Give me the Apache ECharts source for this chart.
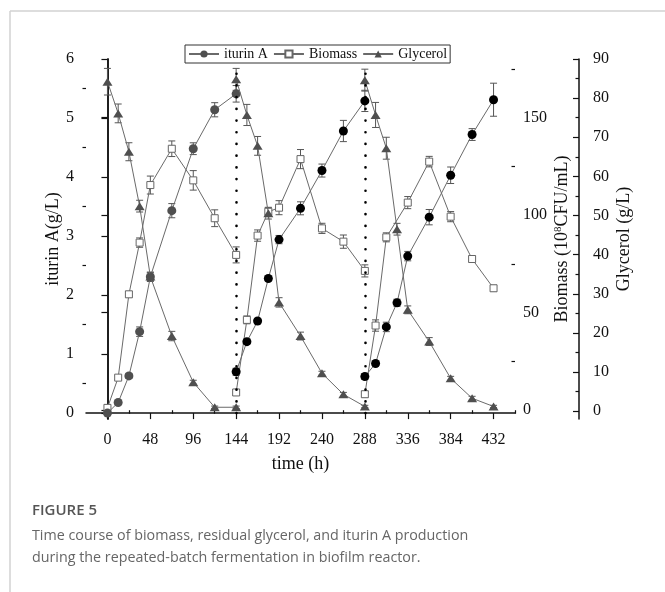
<!DOCTYPE html>
<html lang="en">
<head>
<meta charset="UTF-8">
<title>Figure 5</title>
<script src="https://cdn.jsdelivr.net/npm/echarts@6/dist/echarts.min.js"></script>
<style>
  html, body { margin: 0; padding: 0; background: #fff; }
  #main { width: 665px; height: 592px; }
</style>
</head>
<body>
<div id="main"></div>
<script>
// sampling times of the three batches (h)
var cycle1Time = [0, 12, 24, 36, 48, 72, 96, 120, 144];
var cycle2Time = [144, 156, 168, 180, 192, 216, 240, 264, 288];
var cycle3Time = [288, 300, 312, 324, 336, 360, 384, 408, 432];
// biomass was not plotted at 324 h in the third batch
var biomass3Time = [288, 300, 312, 336, 360, 384, 408, 432];

// iturin A (g/L)
var iturin1 = [0.0, 0.18, 0.63, 1.38, 2.31, 3.43, 4.48, 5.14, 5.41];
var iturin2 = [0.70, 1.21, 1.56, 2.28, 2.94, 3.47, 4.11, 4.78, 5.29];
var iturin3 = [0.62, 0.84, 1.46, 1.87, 2.66, 3.32, 4.03, 4.72, 5.31];
var iturin1Err = [0.02, 0.03, 0.04, 0.08, 0.08, 0.12, 0.10, 0.12, 0.14];
var iturin2Err = [0.06, 0.04, 0.04, 0.04, 0.07, 0.11, 0.11, 0.18, 0.18];
var iturin3Err = [0.05, 0.04, 0.08, 0.06, 0.08, 0.13, 0.14, 0.10, 0.28];

// biomass (10^8 CFU/mL)
var biomass1 = [1.2, 16.7, 59.4, 85.9, 115.4, 134.0, 117.8, 98.4, 79.6];
var biomass2 = [9.1, 46.3, 89.5, 101.7, 103.8, 128.7, 93.2, 86.4, 71.4];
var biomass3 = [8.2, 43.4, 88.6, 106.4, 127.4, 99.2, 77.5, 62.5];
var biomass1Err = [1.5, 1.0, 1.5, 2.4, 4.6, 4.0, 5.0, 4.3, 4.1];
var biomass2Err = [1.5, 2.0, 2.9, 2.0, 3.6, 4.9, 2.6, 3.4, 3.1];
var biomass3Err = [1.5, 2.9, 2.3, 3.1, 2.7, 2.6, 1.5, 1.5];

// residual glycerol (g/L)
var glycerol1 = [84.2, 76.1, 66.3, 52.4, 34.4, 19.2, 7.4, 1.0, 1.0];
var glycerol2 = [84.8, 75.7, 67.8, 50.6, 27.8, 19.2, 9.7, 4.3, 1.2];
var glycerol3 = [84.6, 75.7, 67.2, 46.5, 25.9, 17.8, 8.4, 3.3, 1.2];
var glycerol1Err = [3.4, 2.4, 2.3, 1.5, 1.0, 1.2, 0.5, 0.3, 0.3];
var glycerol2Err = [2.8, 2.7, 2.4, 1.5, 1.2, 1.0, 0.5, 0.5, 0.3];
var glycerol3Err = [2.8, 3.2, 2.8, 1.5, 1.0, 1.0, 0.5, 0.5, 0.3];

// medium change times (dotted lines)
var refillTimes = [144, 288];

// axis ticks
var timeTicks = [0, 48, 96, 144, 192, 240, 288, 336, 384, 432];
var timeMinor = [24, 72, 120, 168, 216, 264, 312, 360, 408, 456];
var iturinTicks = [0, 1, 2, 3, 4, 5, 6];
var iturinMinor = [0.5, 1.5, 2.5, 3.5, 4.5, 5.5];
var biomassTicks = [0, 50, 100, 150];
var biomassMinor = [25, 75, 125, 175];
var glycerolTicks = [0, 10, 20, 30, 40, 50, 60, 70, 80, 90];
var glycerolMinor = [5, 15, 25, 35, 45, 55, 65, 75, 85];

var serif = 'Liberation Serif';
var markerGrey = '#4f4f4f';
var lineGrey = '#6a6a6a';

// join the three batches into one line, broken at each refill
function joinLine(parts, laterColor) {
    var out = [];
    parts.forEach(function (p, k) {
        if (k > 0) out.push([null, null]);
        p[0].forEach(function (t, i) {
            if (k > 0 && laterColor) out.push({ value: [t, p[1][i]], itemStyle: { color: laterColor } });
            else out.push([t, p[1][i]]);
        });
    });
    return out;
}

function joinErr(parts) {
    var out = [];
    parts.forEach(function (p) {
        p[0].forEach(function (t, i) {
            out.push([t, p[1][i] - p[2][i], p[1][i] + p[2][i]]);
        });
    });
    return out;
}

function renderErr(params, api) {
    var x = api.value(0);
    var lo = api.coord([x, api.value(1)]);
    var hi = api.coord([x, api.value(2)]);
    var w = 3.5;
    var st = { stroke: '#555', lineWidth: 1 };
    return {
        type: 'group',
        children: [
            { type: 'line', shape: { x1: lo[0], y1: lo[1], x2: hi[0], y2: hi[1] }, style: st },
            { type: 'line', shape: { x1: lo[0] - w, y1: lo[1], x2: lo[0] + w, y2: lo[1] }, style: st },
            { type: 'line', shape: { x1: hi[0] - w, y1: hi[1], x2: hi[0] + w, y2: hi[1] }, style: st }
        ]
    };
}

function errSeries(data, yIdx) {
    return {
        type: 'custom',
        yAxisIndex: yIdx,
        renderItem: renderErr,
        encode: { x: 0, y: [1, 2] },
        data: data,
        z: 1,
        silent: true
    };
}

var axisLineStyle = { show: true, lineStyle: { color: '#111', width: 1.5 } };
var labelStyle = { fontFamily: serif, fontSize: 16, color: '#111' };
var nameStyle = { fontFamily: serif, fontSize: 18, color: '#111' };

function minorY(min, max, pos, offset, values, inside) {
    return {
        type: 'value', min: min, max: max, position: pos, offset: offset,
        axisLine: { show: false },
        axisTick: { show: true, inside: inside, length: 3.5, customValues: values, lineStyle: { color: '#111', width: 1.2 } },
        axisLabel: { show: false },
        splitLine: { show: false }
    };
}

var dotted = refillTimes.map(function (t) {
    return [{ coord: [t, 0] }, { coord: [t, 5.85] }];
});

var iturinParts = [[cycle1Time, iturin1, iturin1Err], [cycle2Time, iturin2, iturin2Err], [cycle3Time, iturin3, iturin3Err]];
var biomassParts = [[cycle1Time, biomass1, biomass1Err], [cycle2Time, biomass2, biomass2Err], [biomass3Time, biomass3, biomass3Err]];
var glycerolParts = [[cycle1Time, glycerol1, glycerol1Err], [cycle2Time, glycerol2, glycerol2Err], [cycle3Time, glycerol3, glycerol3Err]];

var myChart = echarts.init(document.getElementById('main'));

var option = {
    animation: false,
    backgroundColor: '#fff',
    grid: { left: 86, right: 150, top: 59, bottom: 173 },
    legend: {
        data: ['iturin A', 'Biomass', 'Glycerol'],
        left: 185,
        top: 45,
        padding: [2, 3, 2, 3],
        itemGap: 5,
        itemWidth: 30,
        itemHeight: 9,
        borderColor: '#333',
        borderWidth: 1,
        textStyle: { fontFamily: serif, fontSize: 14, color: '#111' }
    },
    xAxis: [
        {
            type: 'value', min: -24, max: 456,
            name: 'time (h)', nameLocation: 'middle', nameGap: 36, nameMoveOverlap: false, nameTextStyle: nameStyle,
            axisLine: axisLineStyle,
            axisTick: { show: true, length: 6, customValues: timeTicks, lineStyle: { color: '#111', width: 1.2 } },
            axisLabel: Object.assign({ customValues: timeTicks, margin: 13 }, labelStyle),
            splitLine: { show: false }
        },
        {
            type: 'value', min: -24, max: 456, position: 'bottom',
            axisLine: { show: false },
            axisTick: { show: true, length: 3.5, customValues: timeMinor, lineStyle: { color: '#111', width: 1.2 } },
            axisLabel: { show: false },
            splitLine: { show: false }
        }
    ],
    yAxis: [
        {
            type: 'value', min: -0.1, max: 6, position: 'left',
            name: 'iturin A(g/L)', nameLocation: 'middle', nameGap: 24, nameMoveOverlap: false, nameTextStyle: nameStyle,
            axisLine: axisLineStyle,
            axisTick: { show: true, length: 6, customValues: iturinTicks, lineStyle: { color: '#111', width: 1.2 } },
            axisLabel: Object.assign({ customValues: iturinTicks, margin: 12 }, labelStyle),
            splitLine: { show: false }
        },
        {
            type: 'value', min: -4.5, max: 180, position: 'right', offset: 0,
            name: 'Biomass (10{sup|8}CFU/mL)', nameLocation: 'middle', nameGap: 38, nameMoveOverlap: false,
            nameTextStyle: Object.assign({ rich: { sup: { fontFamily: serif, fontSize: 11, color: '#111', verticalAlign: 'top', lineHeight: 18 } } }, nameStyle),
            axisLine: axisLineStyle,
            axisTick: { show: true, inside: true, length: 6, customValues: biomassTicks, lineStyle: { color: '#111', width: 1.2 } },
            axisLabel: Object.assign({ customValues: biomassTicks, margin: 8 }, labelStyle),
            splitLine: { show: false }
        },
        {
            type: 'value', min: -2, max: 90, position: 'right', offset: 64,
            name: 'Glycerol (g/L)', nameLocation: 'middle', nameGap: 36, nameMoveOverlap: false, nameTextStyle: nameStyle,
            axisLine: axisLineStyle,
            axisTick: { show: true, inside: true, length: 6, customValues: glycerolTicks, lineStyle: { color: '#111', width: 1.2 } },
            axisLabel: Object.assign({ customValues: glycerolTicks, margin: 14 }, labelStyle),
            splitLine: { show: false }
        },
        minorY(-0.1, 6, 'left', 0, iturinMinor, false),
        minorY(-4.5, 180, 'right', 0, biomassMinor, true),
        minorY(-2, 90, 'right', 64, glycerolMinor, true)
    ],
    graphic: [
        { type: 'line', shape: { x1: 10, y1: 11, x2: 665, y2: 11 }, style: { stroke: '#d2d2d2', lineWidth: 1.5 } },
        { type: 'line', shape: { x1: 10, y1: 11, x2: 10, y2: 592 }, style: { stroke: '#d2d2d2', lineWidth: 1.5 } },
        { type: 'text', left: 32, top: 503, style: { text: 'FIGURE 5', font: '600 15px "Open Sans"', fill: '#555' } },
        {
            type: 'text', left: 32, top: 525,
            style: {
                text: 'Time course of biomass, residual glycerol, and iturin A production\nduring the repeated-batch fermentation in biofilm reactor.',
                font: '14.3px "Open Sans"', lineHeight: 22, fill: '#666'
            }
        }
    ],
    series: [
        {
            name: 'refill', type: 'line', yAxisIndex: 0, data: [], z: 0,
            markLine: {
                silent: true, symbol: 'none', label: { show: false },
                lineStyle: { color: '#000', width: 2.6, type: [0.1, 11.6], cap: 'round' },
                data: dotted
            }
        },
        errSeries(joinErr(iturinParts), 0),
        errSeries(joinErr(biomassParts), 1),
        errSeries(joinErr(glycerolParts), 2),
        {
            name: 'Biomass', type: 'line', yAxisIndex: 1,
            data: joinLine(biomassParts, null),
            symbol: 'rect', symbolSize: 7, showAllSymbol: true, connectNulls: false,
            lineStyle: { color: lineGrey, width: 1 },
            itemStyle: { color: '#fff', borderColor: '#666', borderWidth: 1 },
            z: 2
        },
        {
            name: 'iturin A', type: 'line', yAxisIndex: 0,
            data: joinLine(iturinParts, '#000'),
            symbol: 'circle', symbolSize: 9, showAllSymbol: true, connectNulls: false,
            lineStyle: { color: lineGrey, width: 1 },
            itemStyle: { color: markerGrey, borderWidth: 0 },
            z: 3
        },
        {
            name: 'Glycerol', type: 'line', yAxisIndex: 2,
            data: joinLine(glycerolParts, null),
            symbol: 'triangle', symbolSize: [10, 8], showAllSymbol: true, connectNulls: false,
            lineStyle: { color: lineGrey, width: 1 },
            itemStyle: { color: markerGrey, borderWidth: 0 },
            z: 4
        }
    ]
};

myChart.setOption(option);
</script>
</body>
</html>
